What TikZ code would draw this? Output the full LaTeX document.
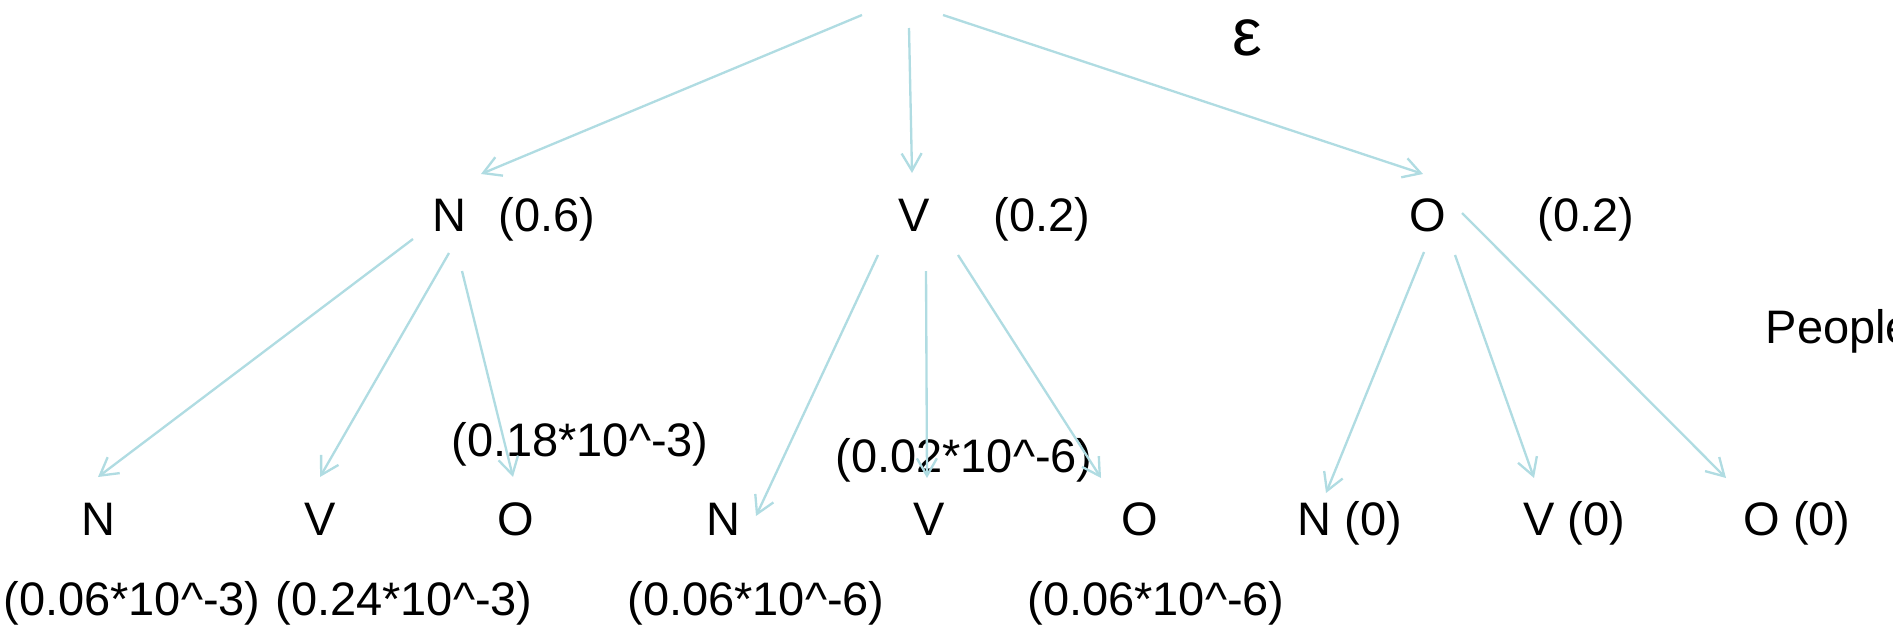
\documentclass[tikz,border=0pt]{standalone}
\usepackage{fontspec}
\setmainfont{Liberation Sans}
\usepackage{xcolor}
\usepackage{tikz}
\usetikzlibrary{arrows.meta}
\definecolor{edgeblue}{RGB}{176,220,226}
\newcommand{\pw}{\textasciicircum{}}

\begin{document}
\begin{tikzpicture}[
    x=0.3pt, y=-0.3pt,
    tag/.style={inner sep=0pt, anchor=base, font=\fontsize{14.1}{17}\selectfont},
    prob/.style={tag},
    edge/.style={draw=edgeblue, line width=0.7pt, -{Straight Barb[length=5.2pt,width=6pt]}},
]
\useasboundingbox (0,0) rectangle (1893,635);

% root
\coordinate (root) at (905,15);
\node[tag, font=\fontsize{20}{24}\selectfont] (eps) at (1247,55) {ε};
\node[tag, anchor=base west] (people) at (1765,343) {People};

% first word
\node[tag] (n1) at (449,231) {N};
\node[prob] (n1p) at (547,231) {(0.6)};
\node[tag] (v1) at (914,231) {V};
\node[prob] (v1p) at (1042,231) {(0.2)};
\node[tag] (o1) at (1428,231) {O};
\node[prob] (o1p) at (1586,231) {(0.2)};

% second word
\node[tag] (nn) at (98,535) {N};
\node[tag] (nv) at (320,535) {V};
\node[tag] (no) at (516,535) {O};
\node[tag] (vn) at (723,535) {N};
\node[tag] (vv) at (929,535) {V};
\node[tag] (vo) at (1140,535) {O};
\node[tag] (on) at (1350,535) {N (0)};
\node[tag] (ov) at (1574,535) {V (0)};
\node[tag] (oo) at (1797,535) {O (0)};

\node[prob] (nop) at (580,456) {(0.18*10\pw-3)};
\node[prob] (vvp) at (964,472) {(0.02*10\pw-6)};
\node[prob] (nnp) at (132,615) {(0.06*10\pw-3)};
\node[prob] (nvp) at (404,615) {(0.24*10\pw-3)};
\node[prob] (vnp) at (756,615) {(0.06*10\pw-6)};
\node[prob] (vop) at (1156,615) {(0.06*10\pw-6)};

% edges from root
\draw[edge] ([shift={(-43,0)}]root) -- ([shift={(32,-57)}]n1.base);
\draw[edge] ([shift={(4,13)}]root) -- ([shift={(-2,-58)}]v1.base);
\draw[edge] ([shift={(38,0)}]root) -- ([shift={(-5,-57)}]o1.base);

% edges from N
\draw[edge] ([shift={(-36,8)}]n1.base) -- ([shift={(0,-58)}]nn.base);
\draw[edge] ([shift={(0,22)}]n1.base) -- ([shift={(0,-58)}]nv.base);
\draw[edge] ([shift={(13,40)}]n1.base) -- ([shift={(-3,-58)}]no.base);

% edges from V
\draw[edge] ([shift={(-36,24)}]v1.base) -- ([shift={(33,-19)}]vn.base);
\draw[edge] ([shift={(12,40)}]v1.base) -- ([shift={(-2,-57)}]vv.base);
\draw[edge] ([shift={(44,24)}]v1.base) -- ([shift={(-39,-57)}]vo.base);

% edges from O
\draw[edge] ([shift={(-4,21)}]o1.base) -- ([shift={(-24,-42)}]on.base);
\draw[edge] ([shift={(27,24)}]o1.base) -- ([shift={(-40,-57)}]ov.base);
\draw[edge] ([shift={(34,-18)}]o1.base) -- ([shift={(-71,-57)}]oo.base);

\end{tikzpicture}
\end{document}
